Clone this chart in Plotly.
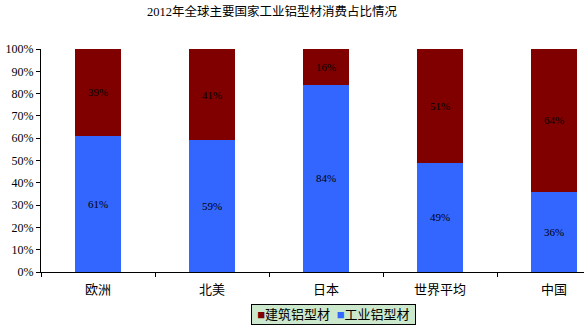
import plotly.graph_objects as go

categories = ["欧洲", "北美", "日本", "世界平均", "中国"]
industrial = [61, 59, 84, 49, 36]
construction = [39, 41, 16, 51, 64]
y_ticks = list(range(0, 101, 10))

W, H = 584, 327
L, R, T, B = 41, 0, 49, 55
font_fam = "Liberation Serif, Noto Sans CJK SC, serif"
c_ind = "#3366FF"
c_con = "#800000"

fig = go.Figure()
fig.add_trace(go.Bar(
    x=categories, y=industrial, name="工业铝型材",
    marker=dict(color=c_ind, line=dict(width=0)),
    text=[f"{v}%" for v in industrial], textposition="inside",
    insidetextanchor="middle", textangle=0,
    textfont=dict(color="#000000", size=11, family=font_fam),
))
fig.add_trace(go.Bar(
    x=categories, y=construction, name="建筑铝型材",
    marker=dict(color=c_con, line=dict(width=0)),
    text=[f"{v}%" for v in construction], textposition="inside",
    insidetextanchor="middle", textangle=0,
    textfont=dict(color="#000000", size=11, family=font_fam),
))

plot_w = W - L - R
plot_h = H - T - B
cat_px = 114.0
x_hi = -0.5 + plot_w / cat_px

legend_text = (f"&nbsp;<span style='color:{c_con}'>■</span>建筑铝型材&nbsp;&nbsp;"
               f"<span style='color:{c_ind}'>■</span>工业铝型材&nbsp;")

fig.update_layout(
    width=W, height=H,
    margin=dict(l=L, r=R, t=T, b=B),
    barmode="stack",
    bargap=1 - 46 / cat_px,
    paper_bgcolor="white", plot_bgcolor="white",
    font=dict(family=font_fam, size=11, color="#000000"),
    title=dict(text="2012年全球主要国家工业铝型材消费占比情况",
               x=(272 - L) / plot_w, xref="paper", xanchor="center",
               y=1 - 12 / H, yanchor="middle",
               font=dict(size=12.5, family=font_fam, color="#000000")),
    showlegend=False,
    annotations=[dict(
        text=legend_text, xref="paper", yref="paper",
        x=(333 - L) / plot_w, y=-(314.5 - (H - B)) / plot_h,
        xanchor="center", yanchor="middle", showarrow=False,
        bgcolor="#CCE8CC", bordercolor="#000000", borderwidth=1,
        borderpad=2, font=dict(size=13, family=font_fam, color="#000000"),
    )],
    xaxis=dict(range=[-0.5, x_hi], showline=True, linecolor="#000000",
               linewidth=1, ticks="outside", tickson="boundaries",
               ticklen=4, tickcolor="#000000", showgrid=False,
               ticklabelstandoff=5,
               tickfont=dict(size=13, family=font_fam)),
    yaxis=dict(range=[0, 100], tickvals=y_ticks,
               ticktext=[f"{v}%" for v in y_ticks],
               showline=True, linecolor="#000000", linewidth=1,
               ticks="outside", ticklen=4, tickcolor="#000000",
               showgrid=False, zeroline=False,
               tickfont=dict(size=12, family=font_fam)),
)

fig.write_html("out.html")
